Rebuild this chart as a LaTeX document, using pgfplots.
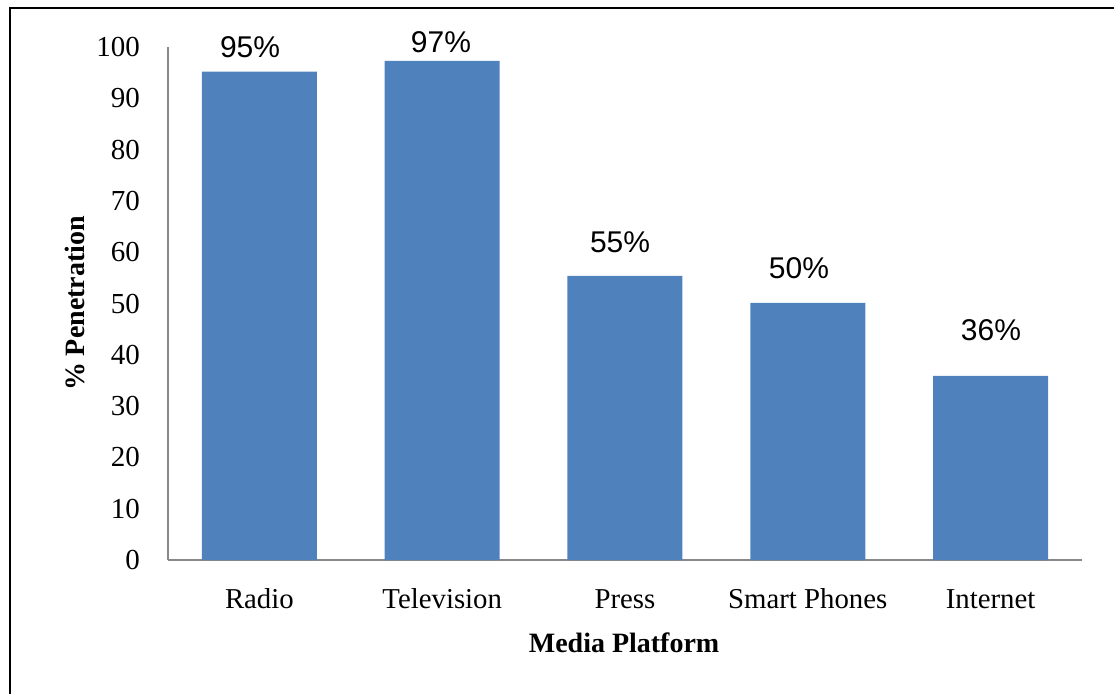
\documentclass[border=0pt]{standalone}
\usepackage{pgfplots}
\pgfplotsset{compat=1.18}
\usepackage{fontspec}
\setmainfont{Liberation Serif}
\newfontfamily\arial{Liberation Sans}
\definecolor{barblue}{HTML}{4F81BD}
\definecolor{axgray}{HTML}{888888}
\begin{document}
\begin{tikzpicture}
\path[use as bounding box] (-84pt,-66.5pt) rectangle (473pt,280pt);
\draw[line width=1.2pt, black] (-79pt,-70pt) -- (-79pt,276pt) -- (476pt,276pt);
\begin{axis}[
  at={(0,0)}, anchor=south west,
  scale only axis,
  width=457pt, height=256.5pt,
  xmin=-0.5, xmax=4.5, ymin=0, ymax=100,
  clip=false,
  axis x line=bottom, axis y line=left,
  axis line style={draw=axgray, line width=0.6pt, -},
  xtick={0,1,2,3,4},
  xticklabels={Radio,Television,Press,Smart Phones,Internet},
  ytick={0,10,...,100},
  major tick length=0pt,
  tick style={draw=none},
  /pgf/number format/assume math mode=true,
  yticklabel style={font=\fontsize{14.5}{17}\selectfont, anchor=east, xshift=-10.5pt},
  xticklabel style={font=\fontsize{14.4}{17}\selectfont, anchor=base, yshift=-24pt},
  xlabel={Media Platform},
  ylabel={\% Penetration},
  xlabel style={font=\fontsize{14}{17}\selectfont\bfseries, at={(axis description cs:0.499,-0.1618)}, anchor=center},
  ylabel style={font=\fontsize{14}{17}\selectfont\bfseries, at={(axis description cs:-0.1018,0.5)}, anchor=center},
]
\addplot[ybar, bar width=57.5pt, fill=barblue, draw=none]
  coordinates {(0,95.2) (1,97.3) (2,55.4) (3,50.1) (4,35.9)};
% value labels (Excel places them at these positions)
\addplot[draw=none, mark=none,
  nodes near coords, point meta=explicit symbolic,
  nodes near coords style={font=\arial\fontsize{15}{18}\selectfont, anchor=base, inner sep=0pt}]
  coordinates {(-0.051,98.05)[95\%] (0.993,99.0)[97\%] (1.973,60.04)[55\%] (2.952,54.78)[50\%] (4.002,42.88)[36\%]};
\end{axis}
\end{tikzpicture}
\end{document}
